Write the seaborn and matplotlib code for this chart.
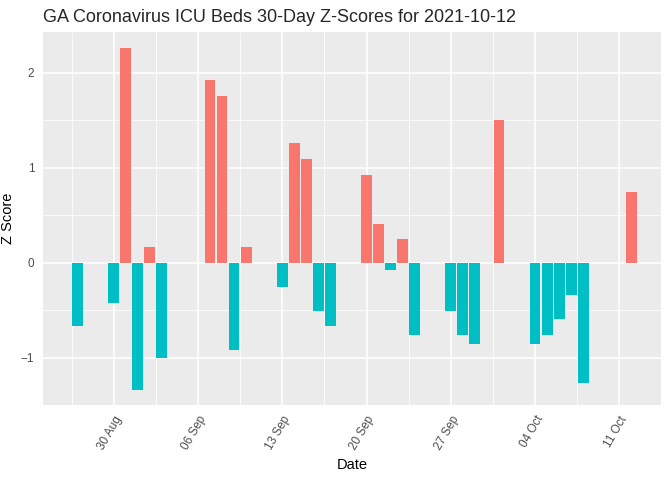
import numpy as np
import pandas as pd
import seaborn as sns
import matplotlib.pyplot as plt
import matplotlib.dates as mdates
from matplotlib.ticker import FixedLocator

# Tagesdaten (nur Werktage)
dates = ["2021-08-27", "2021-08-30", "2021-08-31", "2021-09-01", "2021-09-02", "2021-09-03",
         "2021-09-07", "2021-09-08", "2021-09-09", "2021-09-10",
         "2021-09-13", "2021-09-14", "2021-09-15", "2021-09-16", "2021-09-17",
         "2021-09-20", "2021-09-21", "2021-09-22", "2021-09-23", "2021-09-24",
         "2021-09-27", "2021-09-28", "2021-09-29", "2021-10-01",
         "2021-10-04", "2021-10-05", "2021-10-06", "2021-10-07", "2021-10-08",
         "2021-10-12"]
z_scores = [-0.67, -0.42, 2.26, -1.34, 0.17, -1.00,
            1.93, 1.76, -0.92, 0.17,
            -0.25, 1.26, 1.09, -0.51, -0.67,
            0.92, 0.41, -0.08, 0.25, -0.76,
            -0.51, -0.76, -0.85, 1.50,
            -0.85, -0.76, -0.59, -0.34, -1.26,
            0.75]
tick_dates = ["2021-08-30", "2021-09-06", "2021-09-13", "2021-09-20",
              "2021-09-27", "2021-10-04", "2021-10-11"]

df = pd.DataFrame({"Date": pd.to_datetime(dates), "Z": z_scores})
df["x"] = mdates.date2num(df["Date"])
df["Sign"] = np.where(df["Z"] > 0, "pos", "neg")

sns.set_theme(style="darkgrid", rc={
    "axes.facecolor": "#EBEBEB",
    "grid.color": "white",
    "axes.edgecolor": "#EBEBEB",
})
plt.rcParams["font.family"] = ["Liberation Sans", "DejaVu Sans"]

fig = plt.figure(figsize=(6.72, 4.8), dpi=100)
ax = fig.add_axes([0.064, 0.1556, 0.9196, 0.7777])

sns.barplot(data=df, x="x", y="Z", hue="Sign",
            palette={"pos": "#F8766D", "neg": "#00BFC4"},
            native_scale=True, dodge=False, legend=False, width=0.9,
            errorbar=None, saturation=1, linewidth=0, ax=ax)

# Achsen
major = mdates.date2num(pd.to_datetime(tick_dates))
minor = np.concatenate([[major[0] - 3.5], major + 3.5])
ax.xaxis.set_major_locator(FixedLocator(major))
ax.xaxis.set_minor_locator(FixedLocator(minor))
ax.xaxis.set_major_formatter(mdates.DateFormatter("%d %b"))
ax.set_xlim(major[0] - 5.87, major[0] + 45.46)
ax.set_ylim(-1.50, 2.43)
ax.set_yticks([-1, 0, 1, 2])
ax.yaxis.set_minor_locator(FixedLocator([-1.5, -0.5, 0.5, 1.5]))

ax.grid(which="major", color="white", linewidth=1.1)
ax.grid(which="minor", color="white", linewidth=0.55)
ax.set_axisbelow(True)
for s in ax.spines.values():
    s.set_visible(False)

ax.tick_params(axis="both", which="major", length=3.7, width=0.8, color="#333333",
               labelsize=8.5, labelcolor="#4D4D4D", pad=2.5)
ax.tick_params(axis="both", which="minor", length=0)
plt.setp(ax.get_xticklabels(), rotation=60, ha="right", rotation_mode="anchor")

ax.set_xlabel("Date", fontsize=10.5, color="black")
ax.set_ylabel("Z Score", fontsize=10.5, color="black")
ax.xaxis.set_label_coords(0.5, -0.142)
ax.yaxis.set_label_coords(-0.045, 0.5)
ax.set_title("GA Coronavirus ICU Beds 30-Day Z-Scores for 2021-10-12",
             fontsize=13, loc="left", x=0.0, pad=7)

fig.savefig("out.png", dpi=100)
